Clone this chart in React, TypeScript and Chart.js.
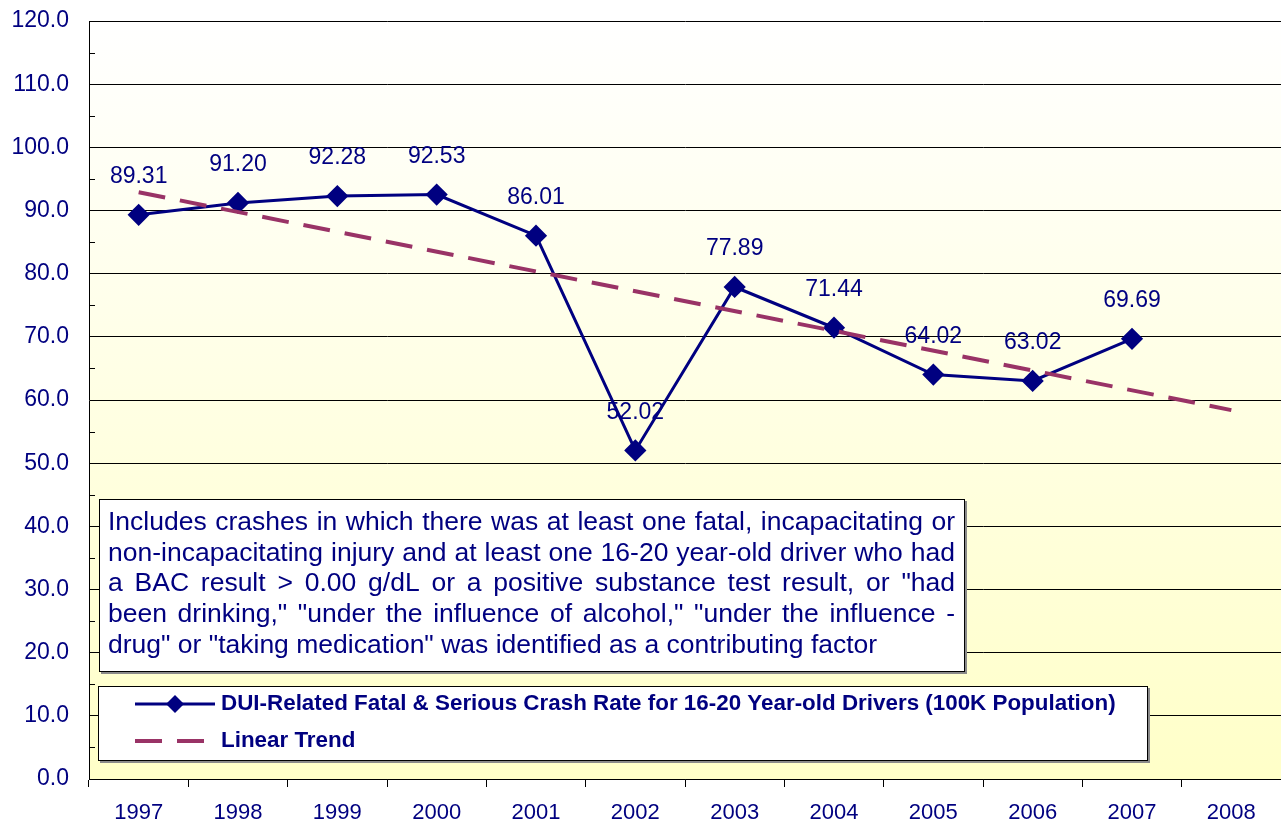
import React, { useEffect, useRef } from "react";
import { Chart, registerables } from "chart.js";

Chart.register(...registerables);

const years = ["1997", "1998", "1999", "2000", "2001", "2002", "2003", "2004", "2005", "2006", "2007", "2008"];
const crashRate = [89.31, 91.2, 92.28, 92.53, 86.01, 52.02, 77.89, 71.44, 64.02, 63.02, 69.69, null];
const trendRate = [92.9, null, null, null, null, null, null, null, null, null, null, 58.4];
const yTickValues = [0, 10, 20, 30, 40, 50, 60, 70, 80, 90, 100, 110, 120];
const seriesLabel = "DUI-Related Fatal & Serious Crash Rate for 16-20 Year-old Drivers (100K Population)";
const trendLabel = "Linear Trend";
const noteLines = [
  "Includes crashes in which there was at least one fatal, incapacitating or",
  "non-incapacitating injury and at least one 16-20 year-old driver who had",
  "a BAC result > 0.00 g/dL or a positive substance test result, or \"had",
  "been drinking,\" \"under the influence of alcohol,\" \"under the influence -",
  "drug\" or \"taking medication\" was identified as a contributing factor",
];

const NAVY = "#000080";
const TREND = "#993366";
const FONT = "\"Liberation Sans\", Arial, sans-serif";

const bgPlugin = {
  id: "bgPlugin",
  beforeDraw(chart: any) {
    const { ctx, chartArea: a } = chart;
    ctx.save();
    ctx.fillStyle = "#ffffff";
    ctx.fillRect(0, 0, chart.width, chart.height);
    const g = ctx.createLinearGradient(0, a.top, 0, a.bottom);
    g.addColorStop(0, "#ffffff");
    g.addColorStop(1, "#ffffc8");
    ctx.fillStyle = g;
    ctx.fillRect(a.left, a.top, a.right - a.left, a.bottom - a.top);
    ctx.restore();
  },
};

const labelPlugin = {
  id: "labelPlugin",
  beforeDatasetsDraw(chart: any) {
    const { ctx } = chart;
    const meta = chart.getDatasetMeta(0);
    ctx.save();
    ctx.font = `23px ${FONT}`;
    ctx.fillStyle = NAVY;
    ctx.textAlign = "center";
    ctx.textBaseline = "middle";
    meta.data.forEach((pt: any, i: number) => {
      const v = crashRate[i];
      if (v == null) return;
      ctx.fillText(v.toFixed(2), pt.x, pt.y - 38);
    });
    ctx.restore();
  },
};

function boxWithShadow(ctx: any, x: number, y: number, w: number, h: number) {
  ctx.fillStyle = "#8a8a8a";
  ctx.fillRect(x + 2, y + 2, w, h);
  ctx.fillStyle = "#ffffff";
  ctx.fillRect(x, y, w, h);
  ctx.strokeStyle = "#000000";
  ctx.lineWidth = 1;
  ctx.strokeRect(x + 0.5, y + 0.5, w - 1, h - 1);
}

const overlayPlugin = {
  id: "overlayPlugin",
  afterDraw(chart: any) {
    const { ctx, chartArea: a } = chart;
    const yScale = chart.scales.y;
    ctx.save();
    // minor ticks on y axis
    ctx.strokeStyle = "#000";
    ctx.lineWidth = 1;
    for (let i = 0; i < yTickValues.length - 1; i++) {
      const v = (yTickValues[i] + yTickValues[i + 1]) / 2;
      const py = Math.round(yScale.getPixelForValue(v)) + 0.5;
      ctx.beginPath();
      ctx.moveTo(a.left, py);
      ctx.lineTo(a.left + 6, py);
      ctx.stroke();
    }

    // note box
    boxWithShadow(ctx, 99, 499, 866, 173);
    ctx.font = `26.5px ${FONT}`;
    ctx.fillStyle = NAVY;
    ctx.textBaseline = "alphabetic";
    ctx.textAlign = "left";
    const tx = 108;
    const tw = 847;
    noteLines.forEach((line, i) => {
      const by = 530 + i * 30.7;
      if (i === noteLines.length - 1) {
        ctx.fillText(line, tx, by);
        return;
      }
      const words = line.split(" ");
      const widths = words.map((w) => ctx.measureText(w).width);
      const total = widths.reduce((s, w) => s + w, 0);
      const gap = (tw - total) / (words.length - 1);
      let cx = tx;
      words.forEach((w, k) => {
        ctx.fillText(w, cx, by);
        cx += widths[k] + gap;
      });
    });

    // legend box
    boxWithShadow(ctx, 98, 686, 1050, 75);
    ctx.strokeStyle = NAVY;
    ctx.lineWidth = 3;
    ctx.beginPath();
    ctx.moveTo(135, 704);
    ctx.lineTo(215, 704);
    ctx.stroke();
    ctx.fillStyle = NAVY;
    ctx.beginPath();
    ctx.moveTo(175, 695);
    ctx.lineTo(184, 704);
    ctx.lineTo(175, 713);
    ctx.lineTo(166, 704);
    ctx.closePath();
    ctx.fill();
    ctx.strokeStyle = TREND;
    ctx.lineWidth = 4;
    ctx.setLineDash([27, 15]);
    ctx.beginPath();
    ctx.moveTo(135, 741);
    ctx.lineTo(215, 741);
    ctx.stroke();
    ctx.setLineDash([]);
    ctx.font = `bold 22.4px ${FONT}`;
    ctx.fillStyle = NAVY;
    ctx.textBaseline = "middle";
    ctx.fillText(seriesLabel, 221, 704);
    ctx.fillText(trendLabel, 221, 741);
    ctx.restore();
  },
};

export default function App() {
  const ref = useRef<HTMLCanvasElement | null>(null);
  useEffect(() => {
    document.body.style.margin = "0";
    const canvas = ref.current!;
    const chart = new Chart(canvas, {
      type: "line",
      data: {
        labels: years,
        datasets: [
          {
            label: seriesLabel,
            data: crashRate,
            borderColor: NAVY,
            backgroundColor: NAVY,
            borderWidth: 3,
            pointStyle: "rectRot",
            pointRadius: 9,
            pointBackgroundColor: NAVY,
            pointBorderColor: NAVY,
            tension: 0,
            order: 1,
          },
          {
            label: trendLabel,
            data: trendRate,
            borderColor: TREND,
            borderWidth: 4,
            borderDash: [27, 15],
            pointRadius: 0,
            spanGaps: true,
            tension: 0,
            order: 0,
          },
        ],
      },
      options: {
        responsive: false,
        animation: false,
        layout: { autoPadding: false, padding: { top: 21, right: 0, left: 0, bottom: 0 } },
        plugins: { legend: { display: false }, tooltip: { enabled: false } },
        scales: {
          x: {
            offset: true,
            grid: {
              offset: true,
              drawOnChartArea: false,
              drawTicks: true,
              tickLength: 8,
              color: "#000",
            },
            border: { color: "#000", width: 1 },
            ticks: {
              color: NAVY,
              font: { family: FONT, size: 22 },
              padding: 13,
              maxRotation: 0,
            },
            afterFit(scale: any) {
              scale.height = 50;
              scale.paddingLeft = 0;
              scale.paddingRight = 0;
            },
          },
          y: {
            min: 0,
            max: 120,
            grid: { color: "#000", lineWidth: 1, drawTicks: false },
            border: { color: "#000", width: 1 },
            ticks: {
              stepSize: 10,
              color: NAVY,
              font: { family: FONT, size: 23 },
              padding: 20,
              callback: (v: any) => Number(v).toFixed(1),
            },
            afterFit(scale: any) {
              scale.width = 89;
              scale.paddingTop = 0;
              scale.paddingBottom = 0;
            },
          },
        },
      },
      plugins: [bgPlugin, labelPlugin, overlayPlugin],
    });
    return () => chart.destroy();
  }, []);
  return (
    <canvas ref={ref} width={1281} height={829} style={{ display: "block", width: 1281, height: 829 }} />
  );
}
